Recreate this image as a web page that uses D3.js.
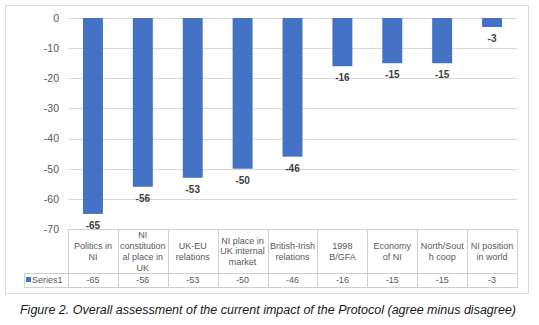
<!DOCTYPE html>
<html><head><meta charset="utf-8">
<script src="https://cdn.jsdelivr.net/npm/d3@7/dist/d3.min.js"></script>
<style>
html,body{margin:0;padding:0;background:#fff;}
svg{display:block;font-family:"Liberation Sans",Arial,sans-serif;}
</style></head><body>
<svg id="c" width="539" height="325"></svg>
<script>
const categories = ["Politics in\nNI","NI\nconstitution\nal place in\nUK","UK-EU\nrelations","NI place in\nUK internal\nmarket","British-Irish\nrelations","1998\nB/GFA","Economy\nof NI","North/Sout\nh coop","NI position\nin world"];
const seriesName = "Series1";
const values = [-65,-56,-53,-50,-46,-16,-15,-15,-3];
const yTicks = [0,-10,-20,-30,-40,-50,-60,-70];
const caption = "Figure 2. Overall assessment of the current impact of the Protocol (agree minus disagree)";

const svg = d3.select("#c");
const L = 68, R = 517, T = 18, B = 229;
const tableBottom = 287, rowSplit = 273, legendLeft = 24;
const grid = "#d9d9d9", txt = "#595959";

// outer border
svg.append("rect").attr("x",5.5).attr("y",5.5).attr("width",523).attr("height",288)
  .attr("fill","#fff").attr("stroke","#d9d9d9");

const x = d3.scaleBand().domain(d3.range(categories.length)).range([L,R]).paddingInner(0).paddingOuter(0);
const y = d3.scaleLinear().domain([0,-70]).range([T,B]);

// gridlines
svg.append("g").selectAll("line").data(yTicks).join("line")
  .attr("x1",L).attr("x2",R).attr("y1",d=>Math.round(y(d))+0.5).attr("y2",d=>Math.round(y(d))+0.5)
  .attr("stroke",grid);

// y axis labels
const yAxis = d3.axisLeft(y).tickValues(yTicks).tickSize(0).tickPadding(9).tickFormat(d=>String(d));
const ga = svg.append("g").attr("transform",`translate(${L},0)`).call(yAxis);
ga.select(".domain").remove();
ga.selectAll("text").attr("fill",txt).attr("font-size","10.5px").attr("font-family","Liberation Sans, Arial, sans-serif");

// bars
const bw = x.bandwidth()*0.4;
svg.append("g").selectAll("rect").data(values).join("rect")
  .attr("x",(d,i)=>x(i)+(x.bandwidth()-bw)/2)
  .attr("y",y(0))
  .attr("width",bw)
  .attr("height",d=>y(d)-y(0))
  .attr("fill","#4472c4");

// data labels
svg.append("g").selectAll("text").data(values).join("text")
  .attr("x",(d,i)=>x(i)+x.bandwidth()/2)
  .attr("y",d=>y(d)+15)
  .attr("text-anchor","middle")
  .attr("font-size","10px").attr("font-weight","bold").attr("fill","#404040")
  .text(d=>d);

// table lines
const tg = svg.append("g").attr("stroke","#d0d0d0").attr("fill","none");
tg.append("line").attr("x1",L).attr("x2",R).attr("y1",B+0.5).attr("y2",B+0.5);
tg.append("line").attr("x1",legendLeft).attr("x2",R).attr("y1",rowSplit+0.5).attr("y2",rowSplit+0.5);
tg.append("line").attr("x1",legendLeft).attr("x2",R).attr("y1",tableBottom+0.5).attr("y2",tableBottom+0.5);
tg.append("line").attr("x1",legendLeft+0.5).attr("x2",legendLeft+0.5).attr("y1",rowSplit).attr("y2",tableBottom+1);
const vx = d3.range(categories.length+1).map(i=> i<categories.length ? x(i) : R);
tg.selectAll("line.v").data(vx).join("line").attr("class","v")
  .attr("x1",d=>Math.round(d)+0.5).attr("x2",d=>Math.round(d)+0.5).attr("y1",B).attr("y2",tableBottom+1);

// category labels
const lh = 10.8;
categories.forEach((c,i)=>{
  const lines = c.split("\n");
  const cy = (B+rowSplit)/2;
  const t = svg.append("text").attr("text-anchor","middle").attr("font-size","9px").attr("fill",txt);
  lines.forEach((ln,j)=>{
    t.append("tspan").attr("x",x(i)+x.bandwidth()/2)
      .attr("y",cy + (j-(lines.length-1)/2)*lh + 3.3).text(ln);
  });
});

// series values row
svg.append("g").selectAll("text").data(values).join("text")
  .attr("x",(d,i)=>x(i)+x.bandwidth()/2)
  .attr("y",(rowSplit+tableBottom)/2+3.3)
  .attr("text-anchor","middle").attr("font-size","9px").attr("fill",txt)
  .text(d=>d);

// legend key
svg.append("rect").attr("x",26).attr("y",277).attr("width",5).attr("height",5).attr("fill","#4472c4");
svg.append("text").attr("x",32).attr("y",(rowSplit+tableBottom)/2+3.3)
  .attr("font-size","9px").attr("fill",txt).text(seriesName);

// caption
svg.append("text").attr("x",268).attr("y",314).attr("text-anchor","middle")
  .attr("font-size","12.5px").attr("font-style","italic").attr("fill","#1a1a1a")
  .text(caption);
</script>
</body></html>
